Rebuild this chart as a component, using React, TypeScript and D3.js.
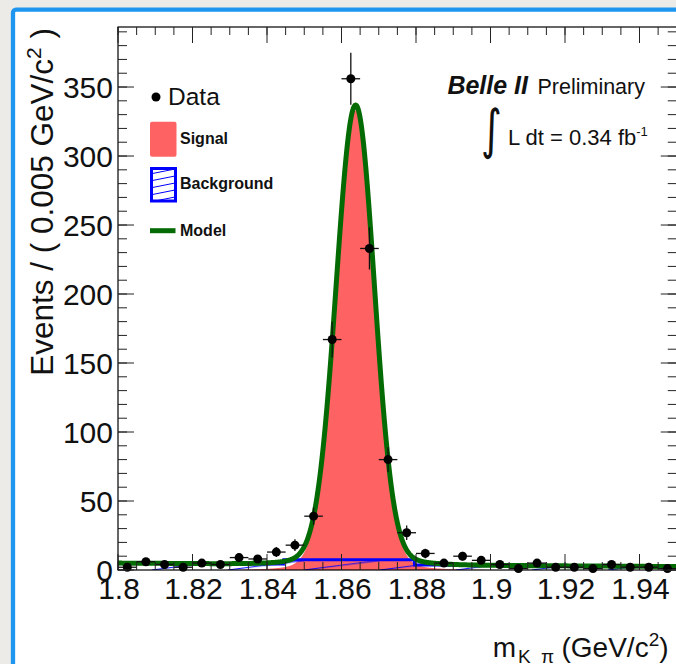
import React from "react";
import * as d3 from "d3";

// ---- data ----
const binCenters = [
  1.8025, 1.8075, 1.8125, 1.8175, 1.8225, 1.8275, 1.8325, 1.8375, 1.8425, 1.8475,
  1.8525, 1.8575, 1.8625, 1.8675, 1.8725, 1.8775, 1.8825, 1.8875, 1.8925, 1.8975,
  1.9025, 1.9075, 1.9125, 1.9175, 1.9225, 1.9275, 1.9325, 1.9375, 1.9425, 1.9475,
];
const counts = [
  2, 6, 4, 2, 5, 4, 9, 8, 13, 18,
  39, 167, 356, 233, 80, 27, 12, 5, 10, 7,
  4, 1, 5, 2, 2, 1, 4, 2, 2, 1,
];
const binWidth = 0.005;

const xDomain = [1.8, 1.95];
const yDomain = [0, 393.5];
const xTicks = [1.8, 1.82, 1.84, 1.86, 1.88, 1.9, 1.92, 1.94];
const xTickLabels = ["1.8", "1.82", "1.84", "1.86", "1.88", "1.9", "1.92", "1.94"];
const yTicks = [0, 50, 100, 150, 200, 250, 300, 350];
const yTickLabels = ["0", "50", "100", "150", "200", "250", "300", "350"];

// fitted model parameters
const sigCore = [1.8638, 327, 0.0052, 0.005]; // mean, amplitude, sigmaL, sigmaR
const sigTail = [6, 0.012]; // amplitude, sigma
const bkgEnds = [5.0, 2.5]; // background at 1.80 and 1.95
const bkgWindow = [1.8445, 1.8795];
const bkgWindowLevel = [7.5];

const FONT = "'Liberation Sans', Arial, Helvetica, sans-serif";
const RED = "#ff6262";
const GREEN = "#046a04";
const BLUE = "#0000ff";

export default function App() {
  const W = 676;
  const H = 664;
  const left = 118;
  const right = 676.75;
  const top = 27;
  const bottom = 570;

  const x = d3.scaleLinear().domain(xDomain).range([left, right]);
  const y = d3.scaleLinear().domain(yDomain).range([bottom, top]);

  const sig = (m: number) => {
    const [mu, a, sl, sr] = sigCore;
    const s = m < mu ? sl : sr;
    const core = a * Math.exp(-((m - mu) ** 2) / (2 * s * s));
    const tail = sigTail[0] * Math.exp(-((m - mu) ** 2) / (2 * sigTail[1] ** 2));
    return core + tail;
  };
  const bkg = (m: number) =>
    bkgEnds[0] + ((bkgEnds[1] - bkgEnds[0]) * (m - xDomain[0])) / (xDomain[1] - xDomain[0]);
  const bkgTop = (m: number) =>
    m >= bkgWindow[0] && m <= bkgWindow[1] ? bkgWindowLevel[0] : bkg(m);
  const model = (m: number) => sig(m) + bkg(m);

  const grid = d3.range(0, 1501).map((i) => xDomain[0] + (i * (xDomain[1] - xDomain[0])) / 1500);

  const sigArea = d3
    .area<number>()
    .x((m) => x(m))
    .y0(y(0))
    .y1((m) => y(sig(m)))(grid) as string;
  const bkgArea = d3
    .area<number>()
    .x((m) => x(m))
    .y0(y(0))
    .y1((m) => y(bkgTop(m)))(grid) as string;
  const bkgLine = d3
    .line<number>()
    .x((m) => x(m))
    .y((m) => y(bkgTop(m)))(grid) as string;
  const modelLine = d3
    .line<number>()
    .x((m) => x(m))
    .y((m) => y(model(m)))(grid) as string;

  const minorX = d3.range(0, 31).map((i) => xDomain[0] + i * 0.005);
  const minorY = d3.range(0, 40).map((i) => i * 10);

  const majLenX = 16;
  const minLenX = 8;
  const majLenY = 16;
  const minLenY = 9;

  return (
    <div style={{ position: "fixed", left: 0, top: 0, width: W, height: H }}>
      <svg width={W} height={H} viewBox={`0 0 ${W} ${H}`} style={{ display: "block" }}>
        <defs>
          <pattern id="hatch" patternUnits="userSpaceOnUse" width={76} height={9.5}>
            <line x1={0} y1={9.5} x2={76} y2={0} stroke={BLUE} strokeWidth={1} />
          </pattern>
          <pattern id="hatchLeg" patternUnits="userSpaceOnUse" width={35} height={7} x={150} y={167}>
            <line x1={0} y1={7} x2={35} y2={0} stroke={BLUE} strokeWidth={1} />
          </pattern>
          <clipPath id="plotClip">
            <rect x={left} y={top} width={right - left} height={bottom - top} />
          </clipPath>
        </defs>

        {/* slide background */}
        <rect x={0} y={0} width={W} height={H} fill="#edebe7" />
        <rect x={13} y={9.7} width={W + 40} height={H + 40} rx={3} fill="#ffffff" stroke="#1e96f0" strokeWidth={4.3} />

        {/* plot contents */}
        <g clipPath="url(#plotClip)">
          <path d={sigArea} fill={RED} />
          <path d={bkgArea} fill="url(#hatch)" />
          <path d={bkgLine} fill="none" stroke={BLUE} strokeWidth={3} />
          <path d={modelLine} fill="none" stroke={GREEN} strokeWidth={5} strokeLinejoin="round" />
        </g>

        {/* data points */}
        <g>
          {binCenters.map((c, i) => {
            const v = counts[i];
            const e = Math.sqrt(v);
            return (
              <g key={i}>
                <line x1={x(c - binWidth / 2)} x2={x(c + binWidth / 2)} y1={y(v)} y2={y(v)} stroke="#111" strokeWidth={1.3} />
                <line x1={x(c)} x2={x(c)} y1={y(v - e)} y2={y(v + e)} stroke="#111" strokeWidth={1.3} />
                <circle cx={x(c)} cy={y(v)} r={4.5} fill="#000" />
              </g>
            );
          })}
        </g>

        {/* frame */}
        <rect x={left} y={top} width={right - left} height={bottom - top} fill="none" stroke="#000" strokeWidth={1.2} />

        {/* ticks */}
        <g stroke="#222" strokeWidth={1}>
          {minorX.map((m, i) => (
            <g key={"mx" + i}>
              <line x1={x(m)} x2={x(m)} y1={bottom} y2={bottom - minLenX} />
              <line x1={x(m)} x2={x(m)} y1={top} y2={top + minLenX} />
            </g>
          ))}
          {xTicks.map((m, i) => (
            <g key={"Mx" + i}>
              <line x1={x(m)} x2={x(m)} y1={bottom} y2={bottom - majLenX} />
              <line x1={x(m)} x2={x(m)} y1={top} y2={top + majLenX} />
            </g>
          ))}
          {minorY.map((v, i) => (
            <g key={"my" + i}>
              <line x1={left} x2={left + minLenY} y1={y(v)} y2={y(v)} />
              <line x1={right} x2={right - minLenY} y1={y(v)} y2={y(v)} />
            </g>
          ))}
          {yTicks.map((v, i) => (
            <g key={"My" + i}>
              <line x1={left} x2={left + majLenY} y1={y(v)} y2={y(v)} />
              <line x1={right} x2={right - majLenY} y1={y(v)} y2={y(v)} />
            </g>
          ))}
        </g>

        {/* tick labels */}
        <g fontFamily={FONT} fill="#111">
          {xTicks.map((m, i) => (
            <text key={"xl" + i} x={x(m) + 1} y={598.5} fontSize={30} textAnchor="middle">
              {xTickLabels[i]}
            </text>
          ))}
          {yTicks.map((v, i) => (
            <text key={"yl" + i} x={113} y={y(v) + 10.5} fontSize={30} textAnchor="end">
              {yTickLabels[i]}
            </text>
          ))}
        </g>

        {/* axis titles */}
        <text transform="translate(52.5,28) rotate(-90)" textAnchor="end" fontFamily={FONT} fontSize={31.5} fill="#111">
          Events / ( 0.005 GeV/c
          <tspan dy={-12} fontSize={21}>2</tspan>
          <tspan dy={12}>{" )"}</tspan>
        </text>
        <text fontFamily={FONT} fill="#111">
          <tspan x={492.7} y={656.7} fontSize={28}>m</tspan>
          <tspan x={518} y={663} fontSize={19}>K</tspan>
          <tspan x={541} y={663} fontSize={19}>π</tspan>
          <tspan x={561.5} y={656.7} fontSize={28}>(GeV/c</tspan>
          <tspan dy={-11} fontSize={19}>2</tspan>
          <tspan dy={11} fontSize={28}>)</tspan>
        </text>

        {/* Belle II label */}
        <text x={528} y={94.3} textAnchor="end" fontFamily={FONT} fontSize={25} fontWeight="bold" fontStyle="italic" fill="#111">
          Belle II
        </text>
        <text x={645} y={94.3} textAnchor="end" fontFamily={FONT} fontSize={21.5} fill="#111">
          Preliminary
        </text>
        <text x={481} y={148} fontFamily="'DejaVu Sans', sans-serif" fontSize={40} fill="#111" transform="translate(0,-52) scale(1,1.35)">
          ∫
        </text>
        <text x={508} y={145} fontFamily={FONT} fontSize={22} fill="#111">
          L dt = 0.34 fb
          <tspan dy={-9} fontSize={13}>-1</tspan>
        </text>

        {/* legend */}
        <circle cx={156} cy={97} r={4.5} fill="#000" />
        <text x={168} y={105} fontFamily={FONT} fontSize={24.5} fill="#111">Data</text>
        <rect x={150} y={121.7} width={26.5} height={35} rx={2} fill={RED} />
        <text x={180} y={144} fontFamily={FONT} fontSize={16} fontWeight="bold" fill="#111">Signal</text>
        <rect x={151.5} y={168.5} width={24} height={32.5} fill="url(#hatchLeg)" stroke={BLUE} strokeWidth={3} />
        <text x={180} y={188.5} fontFamily={FONT} fontSize={16} fontWeight="bold" fill="#111">Background</text>
        <line x1={150} x2={175.5} y1={230.7} y2={230.7} stroke={GREEN} strokeWidth={5} />
        <text x={180} y={236} fontFamily={FONT} fontSize={16} fontWeight="bold" fill="#111">Model</text>
      </svg>
    </div>
  );
}
